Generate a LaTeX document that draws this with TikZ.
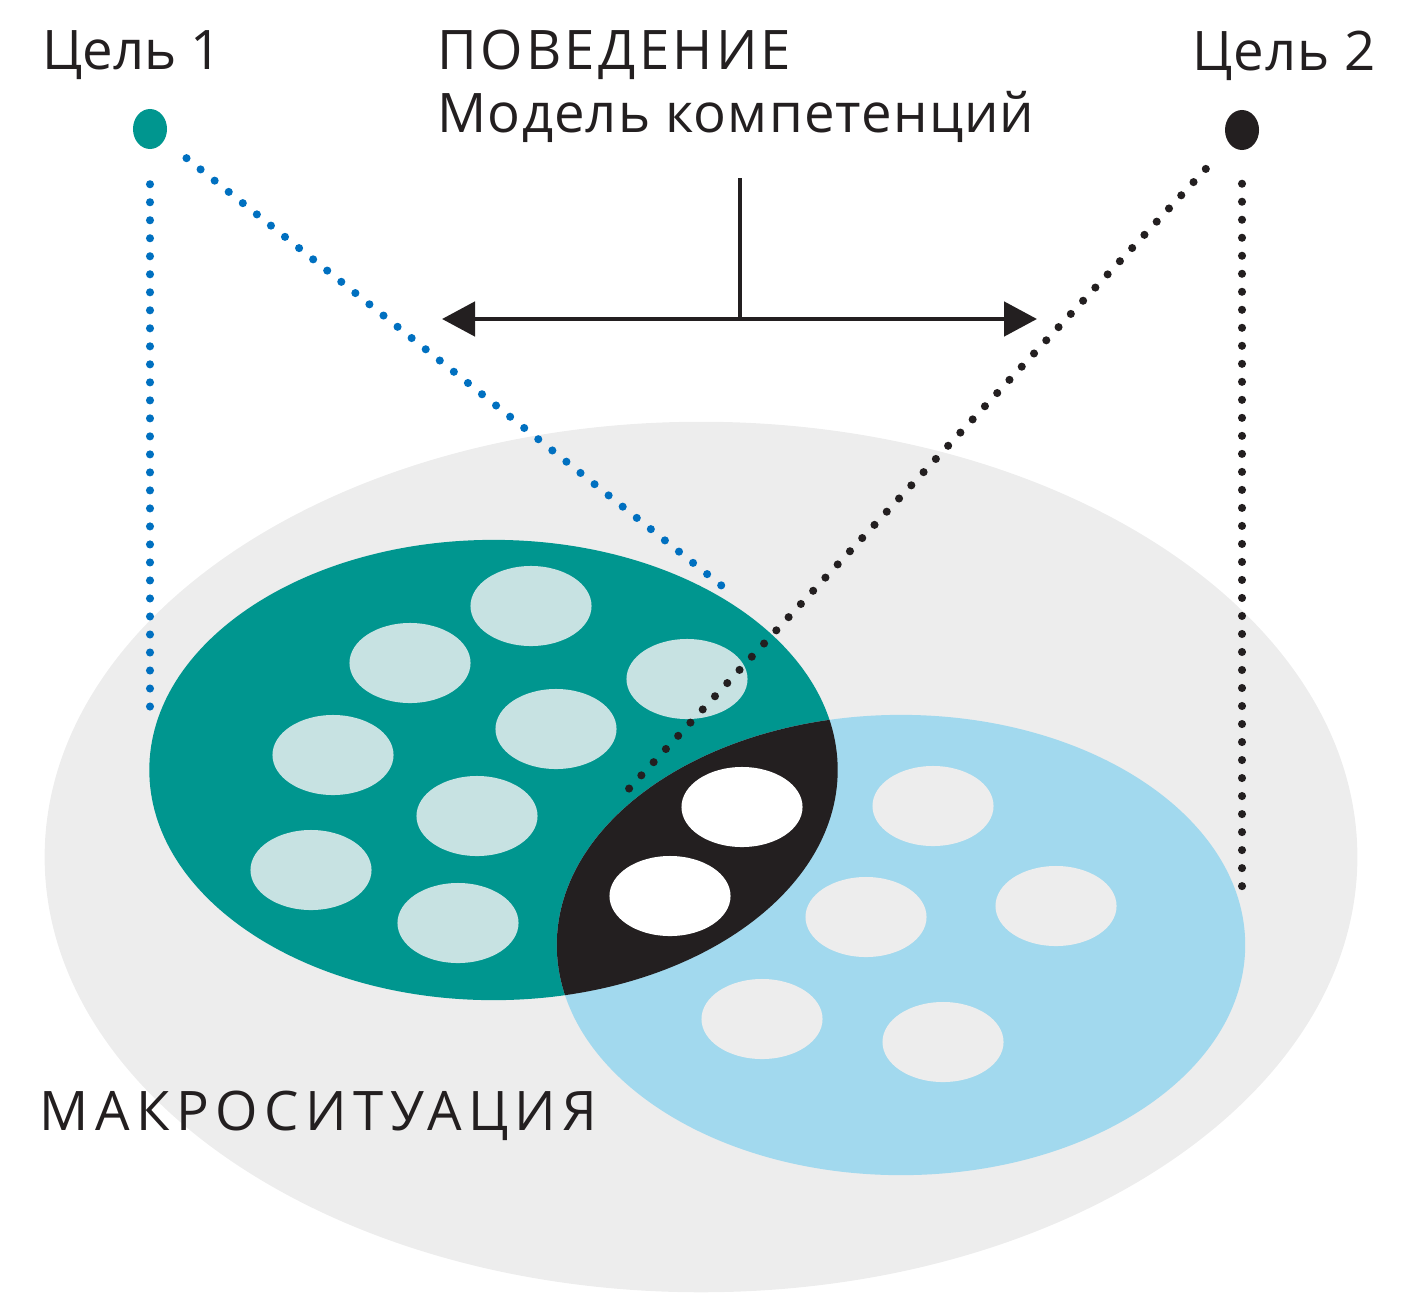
\documentclass[tikz,border=0pt]{standalone}
\usepackage{fontspec}
\setmainfont{Open Sans}
\usepackage{tikz}
\usetikzlibrary{positioning, shapes.geometric, arrows.meta, calc}
\definecolor{macrogray}{RGB}{237,237,237}
\definecolor{goalteal}{RGB}{0,150,143}
\definecolor{tealspot}{RGB}{199,226,226}
\definecolor{goalblue}{RGB}{162,217,238}
\definecolor{overlapblack}{RGB}{35,31,32}
\definecolor{dotblue}{RGB}{0,112,192}
\newcommand\spacedfont[1]{\fontsize{15.5}{18}\selectfont\addfontfeatures{LetterSpace=#1}}

\begin{document}
\begin{tikzpicture}[x=0.01cm, y=-0.01cm,
  captext/.style={anchor=base west, inner sep=0, text=overlapblack, font=\fontsize{15.5}{18}\selectfont},
  goaldot/.style={ellipse, inner sep=0, minimum width=0.34cm, minimum height=0.40cm},
  dotline/.style={line width=2.3pt, line cap=round, dash pattern=on 0pt off 0.18cm},
  spot/.style={x radius=0.605cm, y radius=0.40cm},
  bigset/.style={x radius=3.44cm, y radius=2.30cm}]

\useasboundingbox (0,0) rectangle (1413,1294);

% Macro situation and the two goal sets
\fill[macrogray] (701,857) ellipse [x radius=6.56cm, y radius=4.35cm];
\fill[goalteal] (493.5,770) ellipse [bigset];
\fill[goalblue] (901,945) ellipse [bigset];
\begin{scope}
  \clip (493.5,770) ellipse [bigset];
  \fill[overlapblack] (901,945) ellipse [bigset];
\end{scope}

% Spots
\foreach \x/\y in {531/606, 410/663, 687/679, 556/729, 333/755, 477/816, 311/870, 458/923}
  \fill[tealspot] (\x,\y) ellipse [spot];
\foreach \x/\y in {742/807, 670/896}
  \fill[white] (\x,\y) ellipse [spot];
\foreach \x/\y in {933/806, 866/917, 1056/906, 762/1019, 943/1042}
  \fill[macrogray] (\x,\y) ellipse [spot];

% Goals
\node[goaldot, fill=goalteal] (goalA) at (150,129) {};
\node[goaldot, fill=overlapblack] (goalB) at (1242,130) {};

\coordinate (goalAdown) at (150,712);
\coordinate (goalAset) at (722,586);
\coordinate (goalBdown) at (1242,890);
\coordinate (goalBset) at (624,794);

\draw[dotline, dotblue, shorten <=0.345cm] (goalA) -- (goalAdown);
\draw[dotline, dotblue, shorten <=0.28cm] (goalA) -- (goalAset);
\draw[dotline, overlapblack, shorten <=0.33cm] (goalB) -- (goalBdown);
\draw[dotline, overlapblack, shorten <=0.34cm] (goalB) -- (goalBset);

% Behaviour arrow
\coordinate (behavL) at (442,319);
\coordinate (behavR) at (1037,319);
\coordinate (stemtop) at (740,178);
\coordinate (stemfoot) at (740,319);
\draw[overlapblack, line width=1.4pt, {Triangle[length=0.33cm, width=0.34cm]}-{Triangle[length=0.33cm, width=0.34cm]}] (behavL) -- (behavR);
\draw[overlapblack, line width=1.1pt] (stemtop) -- (stemfoot);

% Texts
\node[captext] (goalAtext) at (42,70) {Цель 1};
\node[captext, font=\spacedfont{1.5}] (goalBtext) at (1192,71) {Цель 2};
\node[captext, font=\spacedfont{6}] (behaviour) at (437,70) {ПОВЕДЕНИЕ};
\node[captext, font=\spacedfont{2}] (model) at (437,133) {Модель компетенций};
\node[captext, font=\spacedfont{12}] (macro) at (39,1130) {МАКРОСИТУАЦИЯ};
\end{tikzpicture}
\end{document}
